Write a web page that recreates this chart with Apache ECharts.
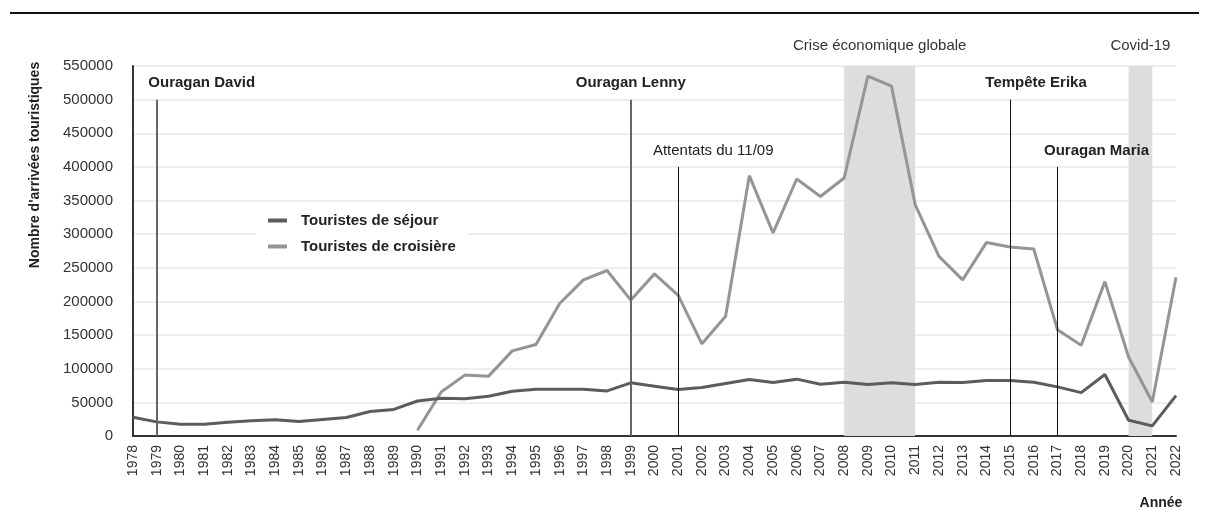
<!DOCTYPE html>
<html>
<head>
<meta charset="utf-8">
<script src="https://cdn.jsdelivr.net/npm/echarts@6/dist/echarts.min.js"></script>
<style>
  html, body { margin: 0; padding: 0; background: #fff; }
  #chart { width: 1209px; height: 520px; }
</style>
</head>
<body>
<div id="chart"></div>
<script>
// Arrivées touristiques par année
const years = ['1978','1979','1980','1981','1982','1983','1984','1985','1986','1987','1988','1989',
  '1990','1991','1992','1993','1994','1995','1996','1997','1998','1999',
  '2000','2001','2002','2003','2004','2005','2006','2007','2008','2009',
  '2010','2011','2012','2013','2014','2015','2016','2017','2018','2019',
  '2020','2021','2022'];

const sejour = [28000, 21000, 17500, 17500, 20500, 22500, 24000, 21500, 24500, 27500, 36500, 39500,
  52000, 56000, 55500, 59000, 66500, 69500, 69500, 69500, 67000, 79000,
  74000, 69000, 72000, 78000, 84000, 79500, 84500, 77000, 80000, 76500,
  79000, 76500, 80000, 79500, 82500, 82500, 80000, 73000, 64500, 91500,
  23500, 15000, 60000];

const croisiere = [null, null, null, null, null, null, null, null, null, null, null, null,
  8500, 65500, 90500, 89000, 126500, 136000, 197000, 232000, 246000, 202000,
  241000, 209000, 137000, 178000, 387000, 302000, 382000, 356000, 383500, 535000,
  520000, 343500, 267000, 232000, 287500, 281000, 278000, 158000, 135000, 229500,
  117500, 50500, 236000];

const yTicks = { min: 0, max: 550000, interval: 50000 };

// Événements ponctuels (lignes verticales)
const eventYears  = ['1979', '1999', '2001', '2015', '2017'];
const eventTops   = [500000, 500000, 400000, 500000, 400000];
const eventLabels = ['Ouragan David', 'Ouragan Lenny', 'Attentats du 11/09', 'Tempête Erika', 'Ouragan Maria'];

// Périodes de crise (zones grisées)
const periodStarts = ['2008', '2020'];
const periodEnds   = ['2011', '2021'];
const periodLabels = ['Crise économique globale', 'Covid-19'];

const FONT = '"Liberation Sans", Arial, Helvetica, sans-serif';

// styles of the event markers
const eventStyles = [
  { color: '#666', width: 2, bold: true,  dx: 45 },
  { color: '#666', width: 2, bold: true,  dx: 0 },
  { color: '#111', width: 1, bold: false, dx: 35 },
  { color: '#111', width: 1, bold: true,  dx: 26 },
  { color: '#111', width: 1, bold: true,  dx: 39 }
];

const eventLines = eventYears.map((yr, i) => {
  const s = eventStyles[i];
  return [
    {
      coord: [yr, eventTops[i]],
      lineStyle: { color: s.color, width: s.width, type: 'solid' },
      label: {
        show: true,
        position: 'start',
        distance: 9,
        offset: [s.dx, 0],
        formatter: eventLabels[i],
        color: '#222',
        fontFamily: FONT,
        fontSize: 15,
        fontWeight: s.bold ? 'bold' : 'normal'
      }
    },
    { coord: [yr, 0] }
  ];
});

const periodAreas = periodStarts.map((st, i) => [
  { xAxis: st, name: periodLabels[i] },
  { xAxis: periodEnds[i] }
]);

const chart = echarts.init(document.getElementById('chart'), null, { renderer: 'canvas' });

chart.setOption({
  animation: false,
  backgroundColor: '#fff',
  grid: { left: 133, right: 33, top: 66, bottom: 84, containLabel: false },
  legend: {
    orient: 'vertical',
    left: 256,
    top: 205,
    padding: [8, 12, 8, 12],
    backgroundColor: '#fff',
    itemGap: 11,
    itemWidth: 19,
    itemHeight: 4,
    icon: 'rect',
    textStyle: { fontFamily: FONT, fontSize: 15, fontWeight: 'bold', color: '#222', padding: [0, 0, 0, 9] },
    data: ['Touristes de séjour', 'Touristes de croisière']
  },
  xAxis: {
    type: 'category',
    data: years,
    boundaryGap: false,
    axisLine: { lineStyle: { color: '#333', width: 2 } },
    axisTick: { show: false },
    axisLabel: {
      interval: 0,
      rotate: 90,
      margin: 9,
      fontFamily: FONT,
      fontSize: 14,
      color: '#333'
    },
    splitLine: { show: false }
  },
  yAxis: {
    type: 'value',
    min: yTicks.min,
    max: yTicks.max,
    interval: yTicks.interval,
    axisLine: { show: true, lineStyle: { color: '#333', width: 2 } },
    axisTick: { show: false },
    axisLabel: {
      margin: 20,
      fontFamily: FONT,
      fontSize: 15,
      color: '#333',
      formatter: (v) => String(v)
    },
    splitLine: { lineStyle: { color: '#e8e8e8', width: 1.5 } }
  },
  series: [
    {
      name: 'Touristes de séjour',
      type: 'line',
      data: sejour,
      symbol: 'none',
      lineStyle: { color: '#5c5c5c', width: 3 },
      itemStyle: { color: '#5c5c5c' },
      z: 4,
      markArea: {
        silent: true,
        itemStyle: { color: '#dddddd' },
        label: {
          show: true,
          position: 'top',
          distance: 13,
          fontFamily: FONT,
          fontSize: 15,
          color: '#333'
        },
        data: periodAreas
      },
      markLine: {
        silent: true,
        symbol: ['none', 'none'],
        animation: false,
        data: eventLines
      }
    },
    {
      name: 'Touristes de croisière',
      type: 'line',
      data: croisiere,
      symbol: 'none',
      connectNulls: false,
      lineStyle: { color: '#959595', width: 3 },
      itemStyle: { color: '#959595' },
      z: 3
    }
  ],
  graphic: [
    {
      type: 'line',
      shape: { x1: 10, y1: 13, x2: 1199, y2: 13 },
      style: { stroke: '#111', lineWidth: 2 }
    },
    {
      type: 'text',
      x: 35,
      y: 165,
      rotation: Math.PI / 2,
      style: {
        text: "Nombre d'arrivées touristiques",
        fontFamily: FONT,
        fontSize: 14,
        fontWeight: 'bold',
        fill: '#222',
        align: 'center',
        verticalAlign: 'middle'
      }
    },
    {
      type: 'text',
      x: 1161,
      y: 503,
      style: {
        text: 'Année',
        fontFamily: FONT,
        fontSize: 14,
        fontWeight: 'bold',
        fill: '#222',
        align: 'center',
        verticalAlign: 'middle'
      }
    }
  ]
});
</script>
</body>
</html>
